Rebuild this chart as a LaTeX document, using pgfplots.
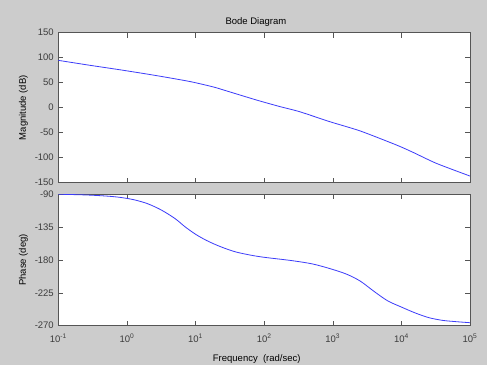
\documentclass[border=0pt]{standalone}
\usepackage{pgfplots}
\pgfplotsset{compat=1.18}
\usepackage{fontspec}
\setmainfont{Liberation Sans}
\definecolor{figbg}{RGB}{204,204,204}
\definecolor{curve}{RGB}{60,60,250}
\definecolor{axcol}{RGB}{85,85,85}
\definecolor{txtcol}{RGB}{60,60,60}
\begin{document}
\begin{tikzpicture}[x=1pt,y=1pt]
\fill[figbg] (0,0) rectangle (487,365);
% top axis: magnitude
\begin{axis}[
  scale only axis, width=411.7pt, height=150pt,
  at={(58.3pt,182.3pt)}, anchor=south west,
  xmode=log, log basis x=10, xmin=0.1, xmax=1e5,
  axis background/.style={fill=white},
  axis line style={axcol, line width=0.8pt},
  tick style={axcol, line width=0.5pt},
  tick align=inside,
  major tick length=5pt, minor tick length=3pt,
  xtick={0.1,1,10,100,1000,10000,100000},
  font=\fontsize{9.5}{11}\selectfont,
  tick label style={text=txtcol},
  /pgf/number format/assume math mode=true,
  yticklabel style={xshift=-1pt},
  ymin=-150, ymax=150, ytick={-150,-100,...,150},
  xticklabels={},
  title={Bode Diagram},
  title style={at={(0.48,1)}, anchor=base, yshift=2pt},
  ylabel={Magnitude (dB)},
  ylabel style={at={(-0.085,0.5)}, anchor=center},
]
\addplot[curve, line width=0.8pt, smooth, tension=0.4] coordinates {
(0.1,94.7) (0.2735,85.3) (0.84,75.3) (2.56,64.7) (8.32,52.3) (18.2,41.5)
(25.1,35.8) (77.6,15.3) (170,2.2) (331,-8.1) (912,-28.1) (2512,-46.5)
(8511,-74.7) (14790,-89.3) (32360,-111.3) (100000,-136.7)
};
\end{axis}
% bottom axis: phase
\begin{axis}[
  scale only axis, width=411.7pt, height=131.7pt,
  at={(58.3pt,39.3pt)}, anchor=south west,
  xmode=log, log basis x=10, xmin=0.1, xmax=1e5,
  axis background/.style={fill=white},
  axis line style={axcol, line width=0.8pt},
  tick style={axcol, line width=0.5pt},
  tick align=inside,
  major tick length=5pt, minor tick length=3pt,
  xtick={0.1,1,10,100,1000,10000,100000},
  font=\fontsize{9.5}{11}\selectfont,
  tick label style={text=txtcol},
  /pgf/number format/assume math mode=true,
  yticklabel style={xshift=-1pt},
  ymin=-270, ymax=-90, ytick={-270,-225,...,-90},
  xticklabels={10\textsuperscript{-1},10\textsuperscript{0},10\textsuperscript{1},10\textsuperscript{2},10\textsuperscript{3},10\textsuperscript{4},10\textsuperscript{5}},
  xticklabel style={yshift=-5pt},
  xlabel={Frequency\ \ (rad/sec)},
  xlabel style={at={(0.482,0)}, anchor=base, yshift=-35.5pt},
  ylabel={Phase (deg)},
  ylabel style={at={(-0.085,0.5)}, anchor=center},
]
\addplot[curve, line width=0.8pt, smooth, tension=0.5] coordinates {
(0.1,-90.3) (0.251,-91.3) (0.501,-92.8) (0.794,-94.6) (1.259,-97.8) (1.995,-103.2)
(3.162,-111.8) (5.012,-123.5) (7.079,-135) (10,-145) (14.13,-153) (19.95,-159.5)
(28.18,-165) (39.81,-169.5) (63.1,-173.5) (100,-176.5) (251.2,-181) (501.2,-185.5)
(912,-192) (1585,-199.5) (2512,-209) (3981,-223) (6310,-236) (10000,-244.5)
(15850,-252.5) (25120,-259) (39810,-262.7) (63100,-264.5) (100000,-265.9)
};
\end{axis}
\end{tikzpicture}
\end{document}
